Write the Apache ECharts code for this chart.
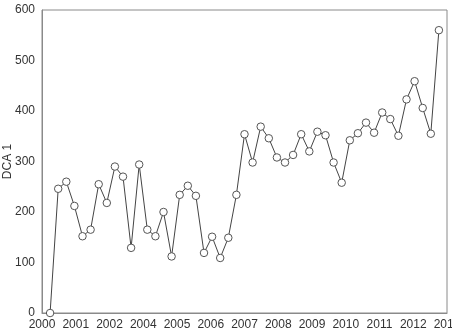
<!DOCTYPE html>
<html>
<head>
<meta charset="utf-8">
<script src="https://cdn.jsdelivr.net/npm/echarts@6/dist/echarts.min.js"></script>
<style>html,body{margin:0;padding:0;background:#fff}#c{width:452px;height:332px}</style>
</head>
<body>
<div id="c"></div>
<script>
// Tick labels shown on the x axis (as printed in the original)
var tickLabels = ['2000','2001','2002','2004','2005','2006','2007','2008','2009','2010','2011','2012','2013'];
// Quarterly positions along the hidden time axis (one empty slot at each end)
var quarters = [];
for (var y = 2000; y <= 2012; y++) { for (var q = 1; q <= 4; q++) quarters.push(y + ' Q' + q); }
quarters = [''].concat(quarters.slice(0, 49)).concat(['']);
// DCA 1 values
var dca1 = [0, 246, 260, 212, 152, 165, 255, 218, 290, 270, 129, 294, 165, 152, 200, 112, 234, 252, 232, 119, 151, 109, 149, 234,
  354, 298, 369, 346, 308, 298, 313, 354, 320, 359, 352, 298, 258, 342, 356, 377, 357, 397, 384, 351, 423, 459, 406, 355, 560];
var yTicks = [0, 100, 200, 300, 400, 500, 600];

var seriesData = dca1.map(function (v, i) { return [quarters[i + 1], v]; });

var chart = echarts.init(document.getElementById('c'), null, {renderer: 'canvas'});
var axisGrey = '#8a8a8a';
var textCol = '#333';
var font = 'Liberation Sans, Arial, sans-serif';
chart.setOption({
  animation: false,
  backgroundColor: '#fff',
  grid: {left: 42, right: 5, top: 10, bottom: 19, show: true, borderColor: axisGrey, borderWidth: 1,
         containLabel: false, outerBoundsMode: 'none'},
  xAxis: [
    {type: 'category', data: tickLabels, boundaryGap: false, position: 'bottom',
     axisLine: {show: true, lineStyle: {color: axisGrey}}, axisTick: {show: false},
     axisLabel: {color: textCol, fontFamily: font, fontSize: 12, margin: 6, interval: 0, hideOverlap: false}, splitLine: {show: false}},
    {type: 'category', data: quarters, boundaryGap: false, show: false}
  ],
  yAxis: {type: 'value', min: yTicks[0], max: yTicks[yTicks.length - 1], interval: 100,
    name: 'DCA 1', nameLocation: 'middle', nameGap: 28, nameMoveOverlap: false,
    nameTextStyle: {color: textCol, fontFamily: font, fontSize: 12},
    axisLine: {show: true, lineStyle: {color: axisGrey}}, axisTick: {show: false}, splitLine: {show: false},
    axisLabel: {color: textCol, fontFamily: font, fontSize: 12, margin: 7}},
  series: [{
    type: 'line', xAxisIndex: 1, data: seriesData,
    symbol: 'circle', symbolSize: 7.5, showAllSymbol: true,
    lineStyle: {color: '#444', width: 1},
    itemStyle: {color: '#fff', borderColor: '#555', borderWidth: 1}
  }]
});
</script>
</body>
</html>
